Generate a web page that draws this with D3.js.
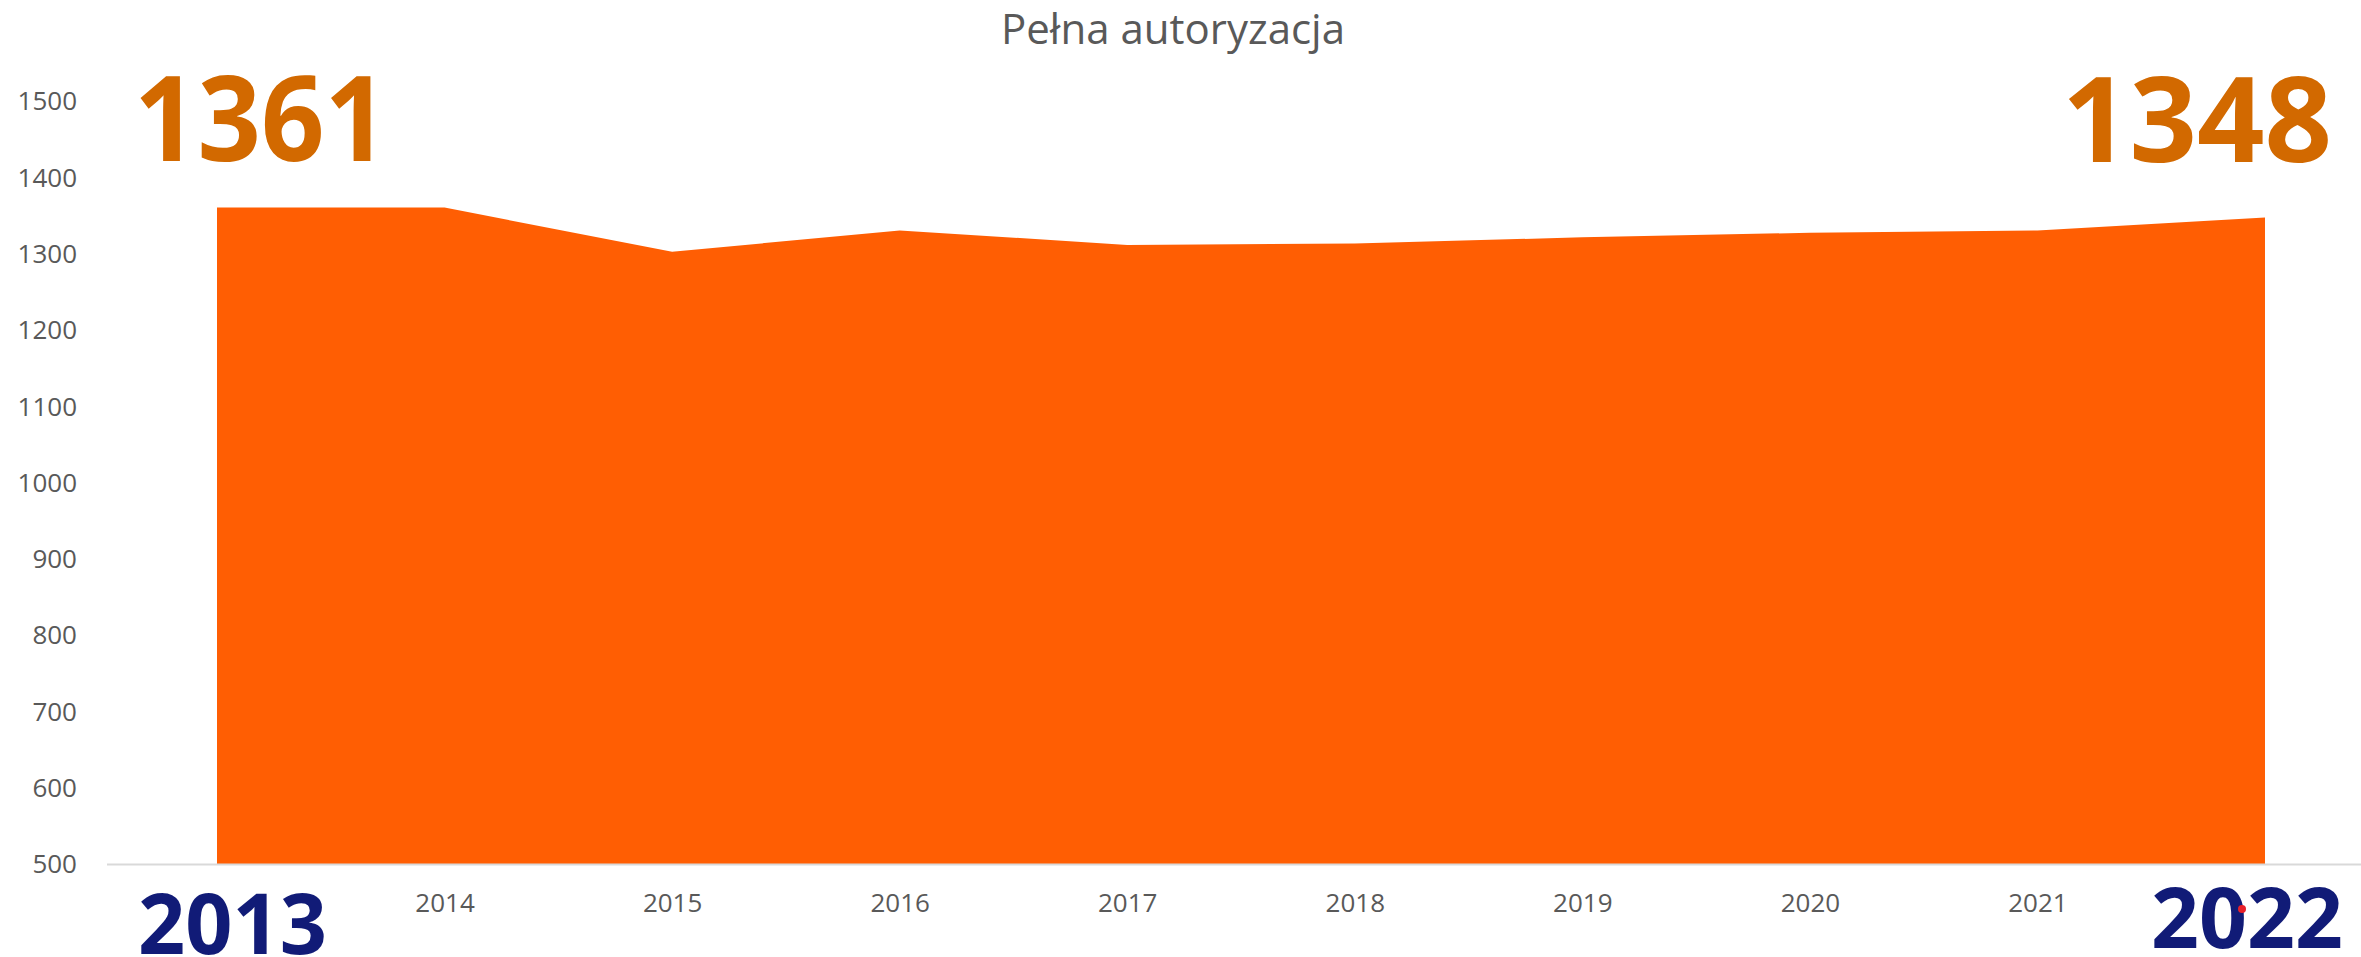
<!DOCTYPE html>
<html lang="pl">
<head>
    <meta charset="UTF-8">
    <title>Pełna autoryzacja</title>
    <script src="https://d3js.org/d3.v7.min.js"></script>
    <style>
        body { margin: 0; background: #fff; }
        svg { display: block; }
        .tick-text {
            font-family: "Open Sans", "Noto Sans", sans-serif;
            font-size: 26px;
            fill: #595959;
        }
        .title {
            font-family: "Open Sans", "Noto Sans", sans-serif;
            font-size: 42px;
            fill: #595959;
            text-anchor: middle;
        }
        .big-value {
            font-family: "Open Sans", "Noto Sans", sans-serif;
            font-weight: 700;
            font-size: 119px;
            fill: #d26900;
        }
        .big-year {
            font-family: "Open Sans", "Noto Sans", sans-serif;
            font-weight: 700;
            font-size: 84px;
            fill: #111b77;
        }
    </style>
</head>
<body>
<script>
    var w = 2361;
    var h = 957;

    var years = [2013, 2014, 2015, 2016, 2017, 2018, 2019, 2020, 2021, 2022];
    var values = [1361, 1361, 1303, 1331, 1312, 1314, 1322, 1328, 1331, 1348];
    var yTicks = [500, 600, 700, 800, 900, 1000, 1100, 1200, 1300, 1400, 1500];
    var title = "Pełna autoryzacja";

    var svg = d3.select("body")
        .append("svg")
        .attr("width", w)
        .attr("height", h);

    var xScale = d3.scalePoint()
        .domain(years)
        .range([217, 2265]);

    var yScale = d3.scaleLinear()
        .domain([500, 1500])
        .range([864.5, 101.5]);

    // area
    var area = d3.area()
        .x(function (d, i) { return xScale(years[i]); })
        .y0(yScale(500))
        .y1(function (d) { return yScale(d); });

    svg.append("path")
        .datum(values)
        .attr("d", area)
        .attr("fill", "#ff5e03");

    // baseline
    svg.append("line")
        .attr("x1", 107)
        .attr("x2", w)
        .attr("y1", yScale(500))
        .attr("y2", yScale(500))
        .attr("stroke", "#d9d9d9")
        .attr("stroke-width", 2);

    // y axis labels
    var yAxis = d3.axisLeft(yScale)
        .tickValues(yTicks)
        .tickFormat(d3.format("d"))
        .tickSize(0)
        .tickPadding(0);

    svg.append("g")
        .attr("transform", "translate(77,0)")
        .call(yAxis)
        .call(function (g) { g.select(".domain").remove(); })
        .selectAll("text")
        .attr("class", "tick-text")
        .attr("font-family", null)
        .attr("font-size", null)
        .attr("fill", null);

    // x axis labels (first and last year drawn big below)
    var xAxis = d3.axisBottom(xScale)
        .tickValues(years.slice(1, years.length - 1))
        .tickFormat(d3.format("d"))
        .tickSize(0)
        .tickPadding(0);

    svg.append("g")
        .attr("transform", "translate(0," + (yScale(500) + 29) + ")")
        .call(xAxis)
        .call(function (g) { g.select(".domain").remove(); })
        .selectAll("text")
        .attr("class", "tick-text")
        .attr("font-family", null)
        .attr("font-size", null)
        .attr("fill", null);

    // title
    svg.append("text")
        .attr("class", "title")
        .attr("x", 1173)
        .attr("y", 44)
        .text(title);

    // big values
    var last = values.length - 1;

    svg.append("text")
        .attr("class", "big-value")
        .attr("x", 134)
        .attr("y", 161)
        .attr("textLength", 254)
        .attr("lengthAdjust", "spacingAndGlyphs")
        .text(values[0]);

    svg.append("text")
        .attr("class", "big-value")
        .attr("x", 2062)
        .attr("y", 162)
        .attr("textLength", 270)
        .attr("lengthAdjust", "spacingAndGlyphs")
        .text(values[last]);

    // big years
    svg.append("text")
        .attr("class", "big-year")
        .attr("x", 138)
        .attr("y", 954)
        .attr("textLength", 189)
        .attr("lengthAdjust", "spacingAndGlyphs")
        .text(years[0]);

    svg.append("text")
        .attr("class", "big-year")
        .attr("x", 2151)
        .attr("y", 948)
        .attr("textLength", 192)
        .attr("lengthAdjust", "spacingAndGlyphs")
        .text(years[last]);

    // little red dot on the last year
    svg.append("circle")
        .attr("cx", 2242)
        .attr("cy", 909)
        .attr("r", 4)
        .attr("fill", "#e8202a");
</script>
</body>
</html>
